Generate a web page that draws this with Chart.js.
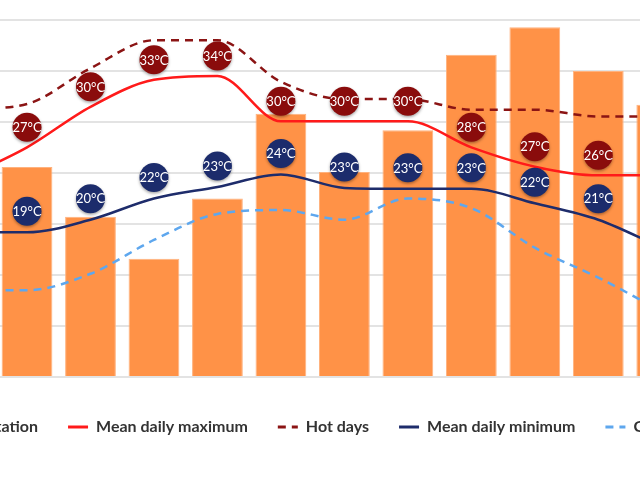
<!DOCTYPE html>
<html>
<head>
<meta charset="utf-8">
<script src="https://cdn.jsdelivr.net/npm/chart.js@4.4.1/dist/chart.umd.min.js"></script>
<style>
html,body{margin:0;padding:0;width:640px;height:480px;overflow:hidden;background:#fff;}
#wrap{position:absolute;left:-134px;top:0;width:900px;height:480px;}
canvas{display:block;}
</style>
</head>
<body>
<div id="wrap"><canvas id="c" width="900" height="480"></canvas></div>
<script>
// ---- data ----
const months = ['Jan','Feb','Mar','Apr','May','Jun','Jul','Aug','Sep','Oct','Nov','Dec'];
const precipitation = [220, 206, 157, 116, 175, 258, 201, 242, 316, 343, 300, 267];
const meanDailyMax = [24.6, 27.8, 32.0, 34.8, 35.2, 30.5, 30.5, 30.5, 27.8, 25.8, 24.9, 24.9];
const hotDays      = [31.7, 32.3, 36.0, 38.9, 38.9, 34.6, 32.8, 32.8, 31.7, 31.7, 31.0, 31.0];
const meanDailyMin = [19.0, 19.0, 20.3, 22.5, 23.7, 25.0, 23.6, 23.5, 23.5, 22.0, 20.3, 17.4];
const coldNights   = [13.0, 13.0, 14.7, 18.2, 20.9, 21.3, 20.3, 22.5, 21.5, 17.4, 14.3, 10.8];
const maxLabels = [25, 27, 30, 33, 34, 30, 30, 30, 28, 27, 26, 25];
const minLabels = [19, 19, 20, 22, 23, 24, 23, 23, 23, 22, 21, 19];

const bubblePlugin = {
  id: 'bubbles',
  afterDatasetsDraw(chart) {
    const ctx = chart.ctx;
    const sets = [
      {idx: 1, labels: maxLabels, color: '#8a0c0c', lift: 20},
      {idx: 3, labels: minLabels, color: '#1c2c6c', lift: 21}
    ];
    sets.forEach(s => {
      const meta = chart.getDatasetMeta(s.idx);
      meta.data.forEach((pt, i) => {
        if (s.labels[i] == null) return;
        const x = pt.x, y = pt.y - s.lift;
        ctx.save();
        ctx.shadowColor = 'rgba(0,0,0,0.35)';
        ctx.shadowBlur = 3;
        ctx.shadowOffsetY = 1.5;
        ctx.beginPath();
        ctx.arc(x, y, 14.5, 0, Math.PI * 2);
        ctx.fillStyle = s.color;
        ctx.fill();
        ctx.restore();
        ctx.save();
        ctx.fillStyle = '#ffffff';
        ctx.font = '13px Lato';
        ctx.textAlign = 'center';
        ctx.textBaseline = 'middle';
        ctx.fillText(s.labels[i] + '°C', x, y + 0.5);
        ctx.restore();
      });
    });
  }
};

function build() {
  new Chart(document.getElementById('c'), {
    data: {
      labels: months,
      datasets: [
        {type: 'bar', label: 'Precipitation', data: precipitation, yAxisID: 'y',
         backgroundColor: '#ff9247', borderColor: '#ffb27e', borderWidth: 1,
         categoryPercentage: 1, barPercentage: 0.8, order: 2, pointStyle: 'rect'},
        {type: 'line', label: 'Mean daily maximum', data: meanDailyMax, yAxisID: 'yT',
         borderColor: '#ff1a1a', borderWidth: 2.5, pointRadius: 0, pointStyle: 'line',
         cubicInterpolationMode: 'monotone', order: 1},
        {type: 'line', label: 'Hot days', data: hotDays, yAxisID: 'yT',
         borderColor: '#8b1414', borderWidth: 2.5, borderDash: [8, 6], pointRadius: 0, pointStyle: 'line',
         cubicInterpolationMode: 'monotone', order: 1},
        {type: 'line', label: 'Mean daily minimum', data: meanDailyMin, yAxisID: 'yT',
         borderColor: '#1e2c6b', borderWidth: 2.5, pointRadius: 0, pointStyle: 'line',
         cubicInterpolationMode: 'monotone', order: 1},
        {type: 'line', label: 'Cold nights', data: coldNights, yAxisID: 'yT',
         borderColor: '#5ea7ee', borderWidth: 2.5, borderDash: [8, 6], pointRadius: 0, pointStyle: 'line',
         cubicInterpolationMode: 'monotone', order: 1}
      ]
    },
    options: {
      responsive: false,
      animation: false,
      layout: {padding: {top: 20, bottom: 35, left: 0, right: 0}},
      plugins: {
        tooltip: {enabled: false},
        legend: {
          position: 'bottom',
          labels: {
            usePointStyle: true,
            pointStyleWidth: 20,
            padding: 30,
            color: '#333333',
            font: {family: 'Lato', size: 16, weight: 'bold'},
            sort: (a, b) => a.datasetIndex - b.datasetIndex,
            generateLabels: (chart) => {
              const items = Chart.defaults.plugins.legend.labels.generateLabels(chart);
              items.forEach(it => {
                const ds = chart.data.datasets[it.datasetIndex];
                if (ds.type === 'bar') {
                  it.pointStyle = 'rect';
                  it.fillStyle = ds.backgroundColor;
                  it.strokeStyle = ds.backgroundColor;
                  it.lineWidth = 0;
                } else {
                  it.pointStyle = 'line';
                  it.strokeStyle = ds.borderColor;
                  it.lineWidth = 3;
                  it.lineDash = ds.borderDash || [];
                }
              });
              return items;
            }
          }
        }
      },
      scales: {
        x: {
          grid: {display: false},
          border: {display: false},
          ticks: {color: '#666666', font: {family: 'Lato', size: 15}, padding: 5},
          afterFit: s => { s.height = 12; }
        },
        y: {
          position: 'left',
          min: 0, max: 350,
          ticks: {display: false, stepSize: 50},
          grid: {color: '#e3e3e3', lineWidth: 2, drawTicks: false},
          border: {display: false},
          afterFit: s => { s.width = 65.8; }
        },
        yT: {
          position: 'right',
          min: 4, max: 41,
          ticks: {display: false},
          grid: {display: false},
          border: {display: false},
          afterFit: s => { s.width = 72.5; }
        }
      }
    },
    plugins: [bubblePlugin]
  });
}

if (document.fonts && document.fonts.load) {
  Promise.all([
    document.fonts.load('bold 16px Lato'),
    document.fonts.load('15px Lato'),
    document.fonts.load('13px Lato')
  ]).then(build, build);
} else {
  build();
}
</script>
</body>
</html>
